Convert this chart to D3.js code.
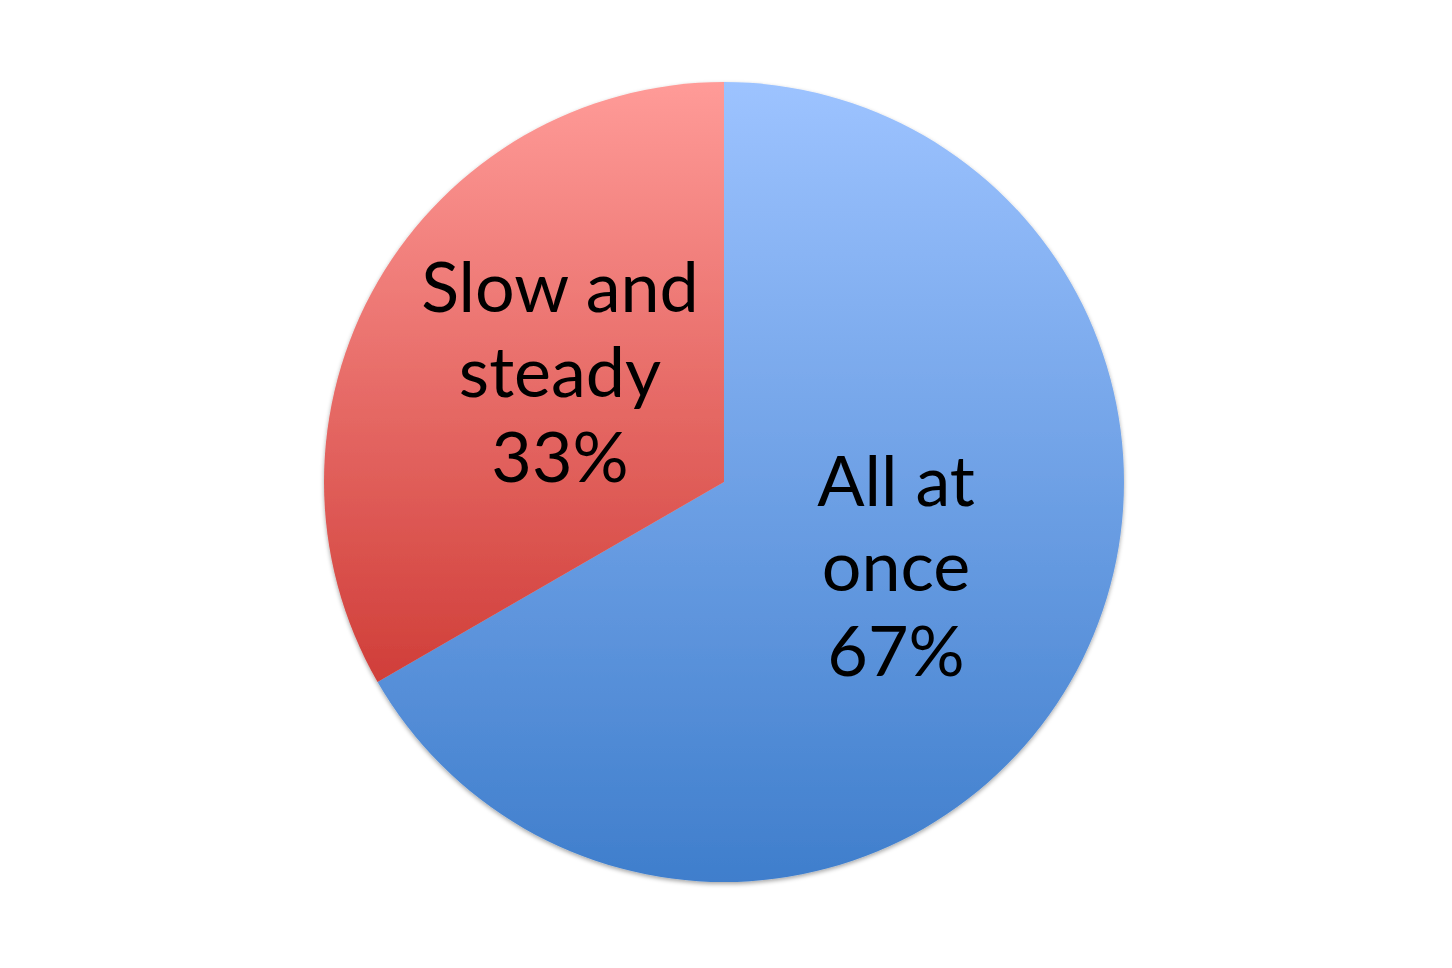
<!DOCTYPE html>
<html>
<head>
<meta charset="utf-8">
<script src="https://cdn.jsdelivr.net/npm/d3@7"></script>
<style>
  body { margin: 0; background: #fff; }
  svg { display: block; }
</style>
</head>
<body>
<script>
// data
var categories = ["All at once", "Slow and steady"];
var values = [2, 1];
var labelLines = [["All at", "once"], ["Slow and", "steady"]];
var topColors = ["#9dc3ff", "#ff9b98"];
var bottomColors = ["#3f7ecc", "#d03e39"];

var w = 1452, h = 968;
var cx = 724, cy = 482, r = 400;

var svg = d3.select("body").append("svg")
  .attr("width", w)
  .attr("height", h);

var defs = svg.append("defs");

var shadow = defs.append("filter").attr("id", "shadow")
  .attr("x", "-10%").attr("y", "-10%").attr("width", "120%").attr("height", "120%");
shadow.append("feDropShadow")
  .attr("dx", 0).attr("dy", 2).attr("stdDeviation", 2)
  .attr("flood-color", "#000").attr("flood-opacity", 0.35);

categories.forEach(function(c, i){
  var g = defs.append("linearGradient").attr("id", "grad" + i)
    .attr("x1", 0).attr("y1", 0).attr("x2", 0).attr("y2", 1);
  g.append("stop").attr("offset", "0%").attr("stop-color", topColors[i]);
  g.append("stop").attr("offset", "100%").attr("stop-color", bottomColors[i]);
});

var pie = d3.pie().sort(null).value(function(d){ return d; });
var arcs = pie(values);
var total = d3.sum(values);

var arc = d3.arc().innerRadius(0).outerRadius(r);
var labelArc = d3.arc().innerRadius(0).outerRadius(r * 0.97);

var gPie = svg.append("g")
  .attr("transform", "translate(" + cx + "," + cy + ")");

gPie.append("g").attr("filter", "url(#shadow)")
  .selectAll("path")
  .data(arcs)
  .enter()
  .append("path")
  .attr("d", arc)
  .attr("fill", function(d, i){ return "url(#grad" + i + ")"; });

var lineH = 85;
var labels = gPie.selectAll("text.lbl")
  .data(arcs)
  .enter()
  .append("text")
  .attr("class", "lbl")
  .attr("text-anchor", "middle")
  .attr("font-family", "Lato, 'Open Sans', sans-serif")
  .attr("font-size", 70)
  .attr("fill", "#000");

labels.each(function(d, i){
  var c = labelArc.centroid(d);
  var lines = labelLines[i].concat([Math.round(d.value / total * 100) + "%"]);
  var midY = c[1] + 12;
  d3.select(this).selectAll("tspan")
    .data(lines)
    .enter()
    .append("tspan")
    .attr("x", c[0] + 4)
    .attr("y", function(t, k){ return midY + (k - 1) * lineH; })
    .text(function(t){ return t; });
});
</script>
</body>
</html>
